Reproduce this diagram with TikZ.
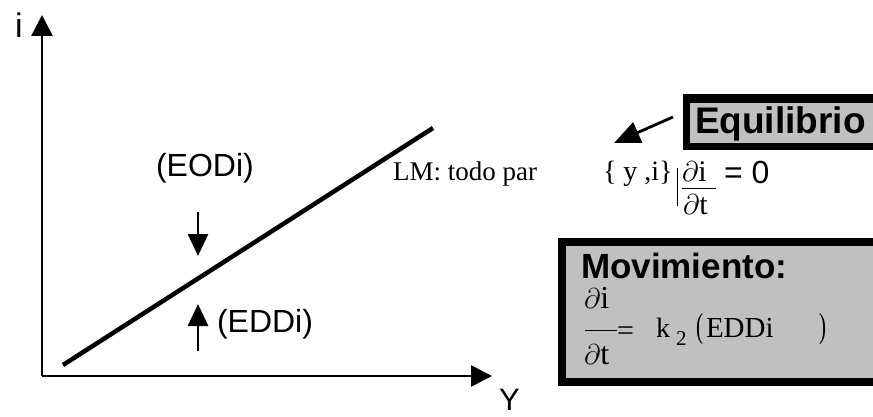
\documentclass[tikz,border=0pt]{standalone}
\usepackage{fontspec}
\setmainfont{Liberation Serif}
\newfontfamily\arial{Liberation Sans}
\usetikzlibrary{arrows.meta}
\definecolor{boxgrey}{RGB}{192,192,192}
\newcommand{\fsz}[1]{\fontsize{#1}{#1}\selectfont}
\newcommand{\pd}{\scalebox{1.15}{$\partial$}}

\begin{document}
\begin{tikzpicture}[x=1pt,y=-1pt,
  txt/.style={inner sep=0pt,outer sep=0pt,anchor=base west},
  sans/.style={txt,font=\arial\fsz{#1}},
  serif/.style={txt,font=\fsz{#1}},
  axis/.style={line width=2.8pt,-{Triangle[length=21pt,width=21pt]}},
  pointer/.style={line width=2.6pt,-{Triangle[length=22pt,width=20pt]}},
  curve/.style={line width=4.5pt},
  frame/.style={fill=black},
  panel/.style={fill=boxgrey},
]
\useasboundingbox (0,0) rectangle (873,417);

% axes
\coordinate (O) at (42,376);
\coordinate (ytop) at (42,15);
\coordinate (xend) at (492,376);
\draw[axis] (O) -- (ytop);
\draw[axis] (O) -- (xend);
\node[sans=34] (ilab) at (15,38) {i};
\node[sans=31] (ylab) at (499,410) {Y};

% LM curve
\coordinate (lm1) at (63,365);
\coordinate (lm2) at (433,128);
\draw[curve] (lm1) -- (lm2);
\node[serif=27] (lmlab) at (393,180) {LM: todo par};

% excess demand / supply labels
\node[sans=32] (eodi) at (156,177) {(EODi)};
\coordinate (d1) at (198,212);
\coordinate (d2) at (198,256);
\draw[pointer] (d1) -- (d2);
\node[sans=32] (eddi) at (217,332) {(EDDi)};
\coordinate (u1) at (198,351);
\coordinate (u2) at (198,304);
\draw[pointer] (u1) -- (u2);

% Equilibrio box
\fill[frame] (683,94) rectangle (873,150);
\fill[panel] (690,103) rectangle (873,143);
\node[txt,font=\arial\bfseries\fsz{37}] (eqlab) at (695,134) {Equilibrio};
\coordinate (ea1) at (673,117);
\coordinate (ea2) at (614,143);
\draw[line width=2.8pt,-{Triangle[length=26pt,width=22pt]}] (ea1) -- (ea2);

% equilibrium condition
\node[serif=28] (yi) at (603,181) {\{ y ,i\}};
\coordinate (bar1) at (677,168);
\coordinate (bar2) at (677,206);
\draw[line width=1pt] (bar1) -- (bar2);
\node[serif=30] (di1) at (682,182) {\pd i};
\coordinate (fl1) at (682,188);
\coordinate (fl2) at (716,188);
\draw[line width=1pt] (fl1) -- (fl2);
\node[serif=30] (dt1) at (683,214) {\pd t};
\node[sans=32] (eqz) at (724,183) {= 0};

% Movimiento box
\fill[frame] (558,238) rectangle (873,386);
\fill[panel] (566,246) rectangle (873,378);
\node[txt,font=\arial\bfseries\fsz{35}] (movlab) at (581,278) {Movimiento:};
\node[serif=32] (di2) at (584,308) {\pd i};
\coordinate (fm1) at (585,330);
\coordinate (fm2) at (617,330);
\draw[line width=1pt] (fm1) -- (fm2);
\node[serif=32] (dt2) at (584,364) {\pd t};
\node[serif=30] (eqs) at (617,340) {=};
\node[serif=28] (k) at (656,337) {k};
\node[serif=21] (two) at (676,345) {2};
\node[txt,font=\fsz{30}] (lp) at (696,337) {\scalebox{0.7}[1.15]{(}};
\node[serif=29] (edd) at (706,337) {EDDi};
\node[txt,font=\fsz{30}] (rp) at (819,337) {\scalebox{0.7}[1.15]{)}};
\end{tikzpicture}
\end{document}
